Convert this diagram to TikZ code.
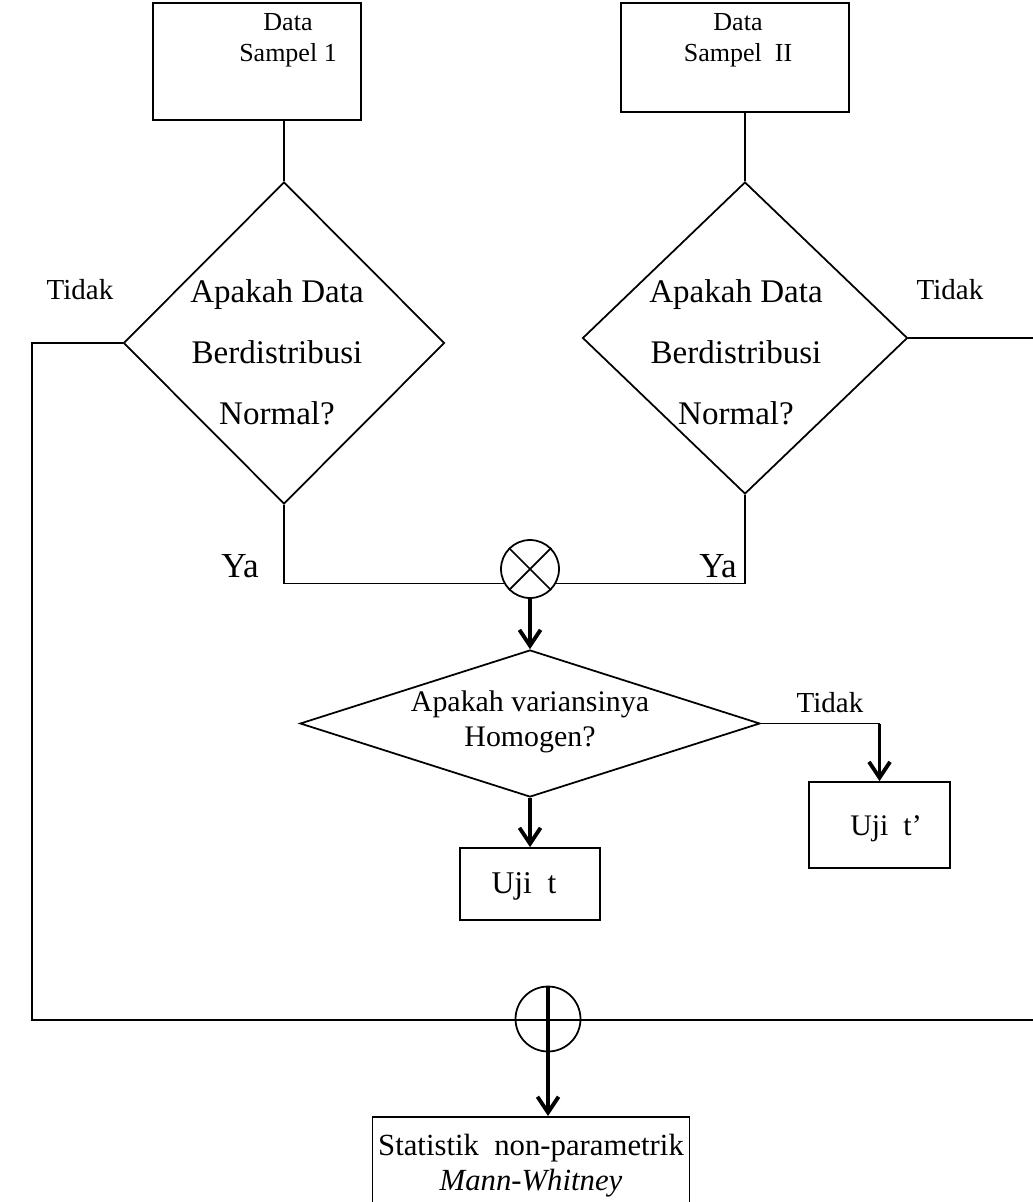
\documentclass[tikz,border=0pt]{standalone}
\usepackage{fontspec}
\setmainfont{Liberation Serif}
\usetikzlibrary{shapes.geometric,arrows.meta,positioning}

\begin{document}
\begin{tikzpicture}[x=0.02cm,y=-0.02cm,font=\fontsize{16.5}{19}\selectfont,
	kotak/.style={draw,line width=1pt,inner sep=0pt},
	belah/.style={draw,diamond,line width=1pt,inner sep=0pt},
	teks/.style={align=center,font=\fontsize{18.8}{34.6}\selectfont},
	bulat/.style={draw,circle,line width=1pt,inner sep=0pt},
	garis/.style={line width=1pt},
	panah/.style={line width=2.2pt,-{Straight Barb[length=9pt,width=12pt]}}]
	\useasboundingbox (0,0) rectangle (1033,1202);
	\clip (0,0) rectangle (1033,1202);
	% data sampel
	\node[kotak,minimum width=4.16cm,minimum height=2.34cm] (s1) at (257,61.5) {};
	\node[align=center,font=\fontsize{14.8}{17.6}\selectfont] (s1t) at (288,40) {Data\\Sampel 1};
	\node[kotak,minimum width=4.56cm,minimum height=2.18cm] (s2) at (735,57.5) {};
	\node[align=center,font=\fontsize{14.8}{17.6}\selectfont] (s2t) at (738,40) {Data\\Sampel~ II};
	% uji normalitas
	\node[belah,minimum width=6.42cm,minimum height=6.44cm] (d1) at (284,343) {};
	\node[teks] (d1t) at (277,352) {Apakah Data\\Berdistribusi\\Normal?};
	\node[belah,minimum width=6.5cm,minimum height=6.24cm] (d2) at (745,338) {};
	\node[teks] (d2t) at (736,352) {Apakah Data\\Berdistribusi\\Normal?};
	\node[bulat,minimum size=1.16cm] (cx) at (530,569) {};
	\draw[garis] (cx.45) -- (cx.225) (cx.135) -- (cx.-45);
	% uji homogenitas
	\node[belah,minimum width=9.2cm,minimum height=2.94cm] (d3) at (530,723.5) {};
	\node[align=center,font=\fontsize{17}{20}\selectfont] (d3t) at (530,722) {Apakah variansinya\\Homogen?};
	\node[kotak,minimum width=2.8cm,minimum height=1.44cm] (u1) at (530,884) {};
	\node[font=\fontsize{18}{20}\selectfont] (u1t) at (524,886) {Uji~ t};
	\node[kotak,minimum width=2.82cm,minimum height=1.72cm] (u2) at (879.5,825) {};
	\node[font=\fontsize{17}{20}\selectfont] (u2t) at (886,829) {Uji~ t'};
	% non-parametrik
	\node[bulat,minimum size=1.3cm] (cp) at (548,1019) {};
	\node[kotak,anchor=north,minimum width=6.34cm,inner ysep=10pt,align=center,font=\fontsize{17.5}{19.5}\selectfont] (mw) at (531,1116) {Statistik~ non-parametrik\\\textit{Mann-Whitney}};
	\coordinate (bl) at (32,1020);
	\coordinate (br) at (1033,1020);
	% label
	\node (t1) at (80,290) {Tidak};
	\node (t2) at (950,290) {Tidak};
	\node[font=\fontsize{20}{22}\selectfont] (y1) at (240,566) {Ya};
	\node[font=\fontsize{20}{22}\selectfont] (y2) at (718,566) {Ya};
	\node (t3) at (830,703) {Tidak};
	% garis
	\draw[garis] (d1.north |- s1.south) -- (d1.north);
	\draw[garis] (d2.north |- s2.south) -- (d2.north);
	\draw[garis] (d1.west) -- (d1.west -| bl) -- (bl) -- (br); %tidak
	\draw[garis] (d2.east) -- (d2.east -| br); %tidak
	\draw[garis] (d1.south) -- (d1.south |- cx.209) -- (cx.209); %ya
	\draw[garis] (d2.south) -- (d2.south |- cx.-29) -- (cx.-29); %ya
	\draw[panah] (cx.south) -- (d3.north);
	\draw[garis] (d3.east) -- (d3.east -| u2.north);
	\draw[panah] (d3.east -| u2.north) -- (u2.north);
	\draw[panah] (d3.south) -- (u1.north);
	\draw[panah] (cp.north) -- (cp.north |- mw.north);
\end{tikzpicture}
\end{document}
